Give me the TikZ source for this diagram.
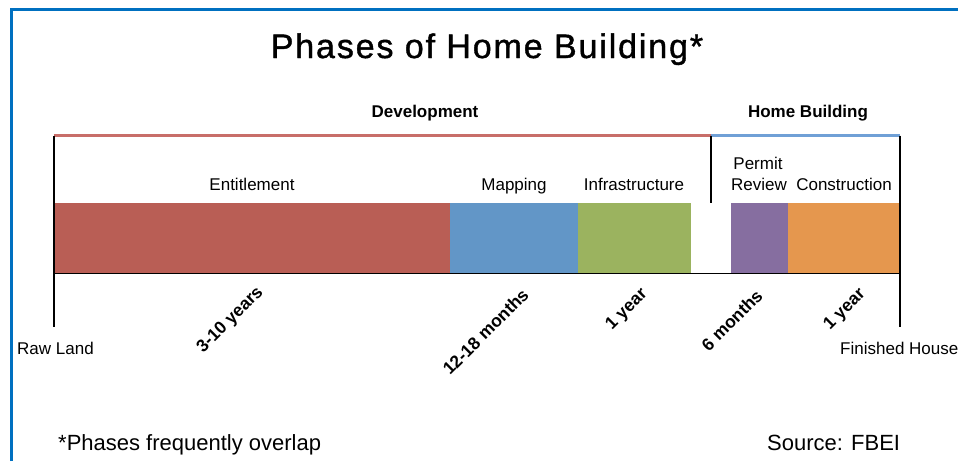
\documentclass[tikz,border=0pt]{standalone}
\usepackage{fontspec}
\setmainfont{Liberation Sans}
\newfontfamily\titlefont[FakeBold=1.2,LetterSpace=5.5]{Liberation Sans}
\definecolor{frameblue}{RGB}{0,112,192}
\definecolor{devred}{RGB}{200,110,105}
\definecolor{hbblue}{RGB}{112,160,214}
\definecolor{entred}{RGB}{185,94,85}
\definecolor{mapblue}{RGB}{98,150,199}
\definecolor{infgreen}{RGB}{155,179,95}
\definecolor{permpurple}{RGB}{134,110,160}
\definecolor{conorange}{RGB}{229,151,78}
\begin{document}
\begin{tikzpicture}[x=1pt,y=-1pt,
  lbl/.style={inner sep=0pt,anchor=base,font=\fontsize{17}{20}\selectfont},
  hdr/.style={inner sep=0pt,anchor=base,font=\fontsize{17}{20}\selectfont\bfseries},
  dur/.style={inner sep=0pt,anchor=base east,rotate=45,font=\fontsize{17.5}{20}\selectfont\bfseries},
  foot/.style={inner sep=0pt,anchor=base west,font=\fontsize{22}{25}\selectfont},
  axis/.style={draw=black,line width=1.5pt},
  bar/.style={draw=none}]
\useasboundingbox (0,0) rectangle (958,461);
% frame
\draw[frameblue,line width=3pt] (11,461) -- (11,9) -- (958,9);
% title
\node[inner sep=0pt,anchor=base,font=\fontsize{34}{40}\titlefont] (title) at (487,58) {Phases of Home Building*};
% group headings
\node[hdr] (dev) at (425,117) {Development};
\node[hdr] (hb) at (808,117) {Home Building};
% coordinates
\coordinate (tl) at (54,135.5);
\coordinate (tm) at (711,135.5);
\coordinate (tr) at (900,135.5);
\coordinate (bl) at (54,327);
\coordinate (br) at (900,327);
\coordinate (mm) at (711,203);
\coordinate (al) at (54,273.5);
\coordinate (ar) at (900,273.5);
% bars
\fill[entred] (54,203) rectangle (450,273.5);
\fill[mapblue] (450,203) rectangle (578,273.5);
\fill[infgreen] (578,203) rectangle (691,273.5);
\fill[permpurple] (731,203) rectangle (788,273.5);
\fill[conorange] (788,203) rectangle (900,273.5);
% lines
\draw[devred,line width=3pt] (tl) -- (tm);
\draw[hbblue,line width=3pt] (tm) -- (tr);
\draw[axis] (tl) -- (bl);
\draw[axis] (tr) -- (br);
\draw[axis] (tm) -- (mm);
\draw[axis] (al) -- (ar);
% phase labels
\node[lbl] (ent) at (252,190) {Entitlement};
\node[lbl] (map) at (514,190) {Mapping};
\node[lbl] (inf) at (634,190) {Infrastructure};
\node[lbl] (perm) at (758,169) {Permit};
\node[lbl] (rev) at (759,190) {Review};
\node[lbl] (con) at (844,190) {Construction};
% durations
\node[dur] (d1) at (264,293) {3-10 years};
\node[dur] (d2) at (530,296) {12-18 months};
\node[dur] (d3) at (648,295) {1 year};
\node[dur] (d4) at (764,297) {6 months};
\node[dur] (d5) at (866,295) {1 year};
% ends
\node[lbl,anchor=base west] (raw) at (17,354) {Raw Land};
\node[lbl,anchor=base west] (fin) at (840,354) {Finished House};
% footer
\node[foot] (note) at (58,450) {*Phases frequently overlap};
\node[foot] (src) at (767,450) {Source: FBEI};
\end{tikzpicture}
\end{document}
